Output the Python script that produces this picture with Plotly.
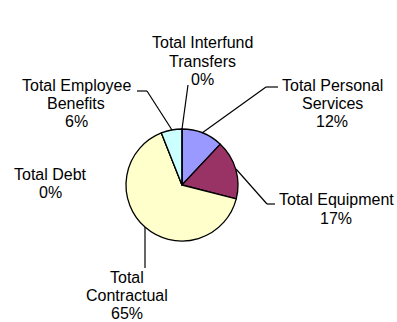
import plotly.graph_objects as go

# Data
categories = ["Total Personal Services", "Total Equipment", "Total Contractual",
              "Total Debt", "Total Employee Benefits", "Total Interfund Transfers"]
label_lines = [["Total Personal", "Services"], ["Total Equipment"], ["Total", "Contractual"],
               ["Total Debt"], ["Total Employee", "Benefits"], ["Total Interfund", "Transfers"]]
values = [12, 17, 65, 0, 6, 0]
colors = ["#9999FF", "#993366", "#FFFFCC", "#FFFFFF", "#CCFFFF", "#FFFFFF"]

W, H = 397, 322
cx, cy, r = 182, 185, 56

def px(x):
    return x / W

def py(y):
    return 1 - y / H

fig = go.Figure(go.Pie(
    labels=categories, values=values, sort=False, direction="clockwise", rotation=0,
    marker=dict(colors=colors, line=dict(color="black", width=1.3)),
    textinfo="none", hoverinfo="label+percent",
    domain=dict(x=[px(cx - r), px(cx + r)], y=[py(cy + r), py(cy - r)]),
))

# label placement (pixel centres of first line) and leader lines
label_pos = [(332, 85), (336, 200), (127, 277), (50, 174.5), (76, 85), (202, 43)]
line_gap = 18.4
leaders = [
    [(202, 133), (266, 87), (278, 87)],
    [(236, 169), (267, 204), (275, 204)],
    [(145, 227), (145, 268)],
    None,
    [(172, 130), (147, 91), (137, 91)],
    [(182, 129), (188, 85)],
]

total = sum(values)
annotations = []
shapes = []
for lines, v, (lx, ly), lead in zip(label_lines, values, label_pos, leaders):
    pct = round(v / total * 100)
    for i, t in enumerate(lines + [f"{pct}%"]):
        annotations.append(dict(
            x=px(lx), y=py(ly + i * line_gap), xref="paper", yref="paper", text=t,
            showarrow=False, xanchor="center", yanchor="middle", align="center",
            font=dict(family="Liberation Sans, Arial, sans-serif", size=16, color="black"),
        ))
    if lead:
        for (x0, y0), (x1, y1) in zip(lead[:-1], lead[1:]):
            shapes.append(dict(type="line", xref="paper", yref="paper",
                               x0=px(x0), y0=py(y0), x1=px(x1), y1=py(y1),
                               line=dict(color="black", width=1.2)))

fig.update_layout(
    width=W, height=H, margin=dict(l=0, r=0, t=0, b=0),
    paper_bgcolor="white", plot_bgcolor="white", showlegend=False,
    annotations=annotations, shapes=shapes,
)

fig.write_html("out.html")
